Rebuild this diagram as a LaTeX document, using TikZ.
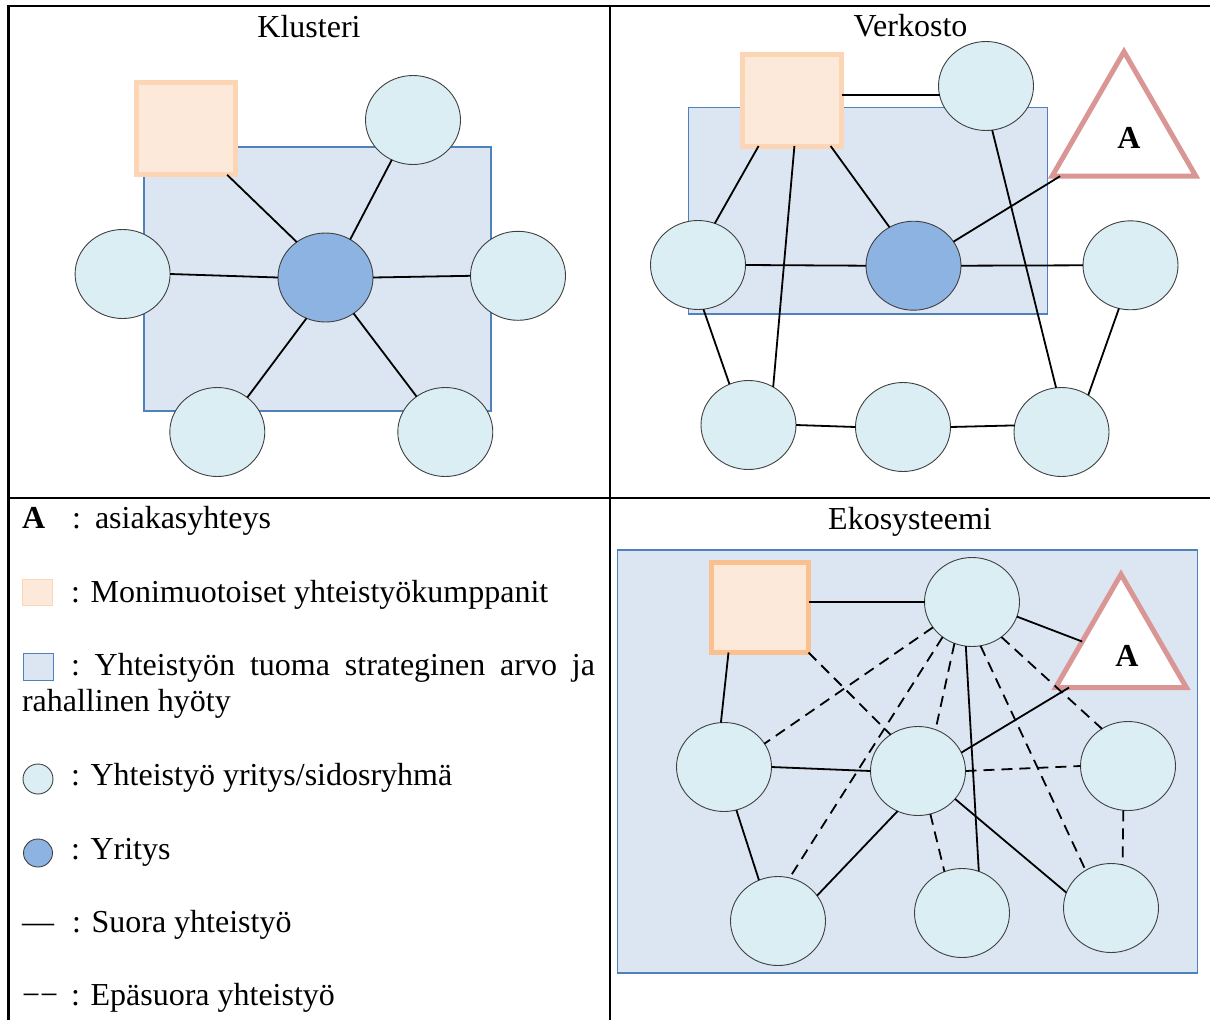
\documentclass[tikz,border=0pt]{standalone}
\usepackage{fontspec}
\setmainfont{Liberation Serif}
\usetikzlibrary{shapes.geometric}
\definecolor{cLight}{HTML}{DAEEF3}
\definecolor{cDark}{HTML}{8DB3E2}
\definecolor{cEdge}{HTML}{404040}
\definecolor{cVal}{HTML}{DCE6F2}
\definecolor{cValB}{HTML}{4F81BD}
\definecolor{cPart}{HTML}{FDE9D9}
\definecolor{cPartB}{HTML}{FCD5B5}
\definecolor{cPartBB}{HTML}{FAC090}
\definecolor{cTri}{HTML}{D99694}
\tikzset{
  txt/.style={font=\fontsize{32}{38}\selectfont, inner sep=0, outer sep=0},
  circ/.style={ellipse, minimum width=95pt, minimum height=89pt, inner sep=0, outer sep=0, draw=cEdge, line width=0.9pt, fill=cLight},
  firm/.style={circ, fill=cDark},
  partner/.style={rectangle, inner sep=0, outer sep=0, line width=5pt, draw=cPartB, fill=cPart, minimum width=99pt, minimum height=92pt},
  valbox/.style={draw=cValB, line width=1.3pt, fill=cVal},
  cust/.style={regular polygon, regular polygon sides=3, inner sep=0, outer sep=0, draw=cTri, fill=white, line width=5pt},
  direct/.style={line width=1.8pt},
  indirect/.style={line width=1.8pt, dash pattern=on 11pt off 7pt},
  gridline/.style={line width=2.4pt},
}
\begin{document}
\begin{tikzpicture}[x=1pt,y=-1pt]
\useasboundingbox (0,0) rectangle (1210,1020);

% table lines
\draw[gridline] (8.5,1020) -- (8.5,6) -- (1210,6);
\draw[gridline] (610,6) -- (610,1020);
\draw[gridline] (8.5,498) -- (1210,498);

% titles
\node[txt, anchor=base] (t1) at (309,37) {Klusteri};
\node[txt, anchor=base] (t2) at (910.5,36) {Verkosto};
\node[txt, anchor=base] (t3) at (910,529) {Ekosysteemi};

% ---------- Klusteri ----------
\draw[valbox] (144,147) rectangle (491,411);
\node[partner] (kS) at (185.7,128.8) {};
\node[circ] (kT) at (413,120) {};
\node[circ] (kL) at (122.6,274) {};
\node[firm] (kC) at (325.5,277.5) {};
\node[circ] (kR) at (518,275.8) {};
\node[circ] (kBL) at (217.3,432) {};
\node[circ] (kBR) at (445.3,432) {};
\draw[direct] (kS.-48) -- (kC.129);
\draw[direct] (kT.-118) -- (kC.57);
\draw[direct] (kL.east) -- (kC.west);
\draw[direct] (kC.east) -- (kR.west);
\draw[direct] (kC.-115) -- (kBL.49);
\draw[direct] (kC.-52) -- (kBR.129);

% ---------- Verkosto ----------
\draw[valbox] (688.5,107.7) rectangle (1047.4,314);
\node[partner] (vS) at (792,100) {};
\node[circ] (vT) at (986,86) {};
\node[cust, minimum size=166pt] (vA) at (1124,134.7) {};
\node[txt, font=\fontsize{32}{38}\selectfont\bfseries] (vAl) at (1129,138) {A};
\node[circ] (vL) at (698,265) {};
\node[firm] (vC) at (913.5,265.7) {};
\node[circ] (vR) at (1130.5,265.3) {};
\node[circ] (vBL) at (748.5,425) {};
\node[circ] (vBM) at (903,427) {};
\node[circ] (vBR) at (1061.5,432) {};
\draw[direct] (vT.-169 -| vS.east) -- (vT.-169);
\draw[direct] (vS.-126) -- (vL.68);
\draw[direct] (vS.-87) -- (vBL.57);
\draw[direct] (vS.-50) -- (vC.122);
\draw[direct] (vT.-82) -- (vBR.97);
\draw[direct] (vC.31) -- (vA.-147);
\draw[direct] (vL.east) -- (vC.west);
\draw[direct] (vC.east) -- (vR.west);
\draw[direct] (vL.-83) -- (vBL.115);
\draw[direct] (vBL.east) -- (vBM.west);
\draw[direct] (vBM.east) -- (vBR.172);
\draw[direct] (vR.-105) -- (vBR.54);

% ---------- Ekosysteemi ----------
\draw[valbox] (617.7,550) rectangle (1197.7,973);
\node[partner, draw=cPartBB, minimum width=97pt, minimum height=90pt] (eS) at (760,607.5) {};
\node[circ] (eT) at (972,602) {};
\node[cust, minimum size=151pt] (eA) at (1121,649.8) {};
\node[txt, font=\fontsize{32}{38}\selectfont\bfseries] (eAl) at (1127,656) {A};
\node[circ] (eL) at (724,767) {};
\node[circ] (eC) at (918,771) {};
\node[circ] (eR) at (1128,766) {};
\node[circ] (eBL) at (778,921) {};
\node[circ] (eBM) at (962,913) {};
\node[circ] (eBR) at (1111,908) {};
\draw[direct] (eT.west -| eS.east) -- (eT.west);
\draw[direct] (eT.-18) -- (eA.168);
\draw[direct] (eS.-125) -- (eL.94);
\draw[direct] (eL.east) -- (eC.west);
\draw[direct] (eC.23) -- (eA.-144);
\draw[direct] (eT.-98) -- (eBM.68);
\draw[direct] (eC.-117) -- (eBL.33);
\draw[direct] (eC.-37) -- (eBR.161);
\draw[direct] (eL.-74) -- (eBL.115);
\draw[indirect] (eT.-147) -- (eL.30);
\draw[indirect] (eT.-130) -- (eBL.75);
\draw[indirect] (eT.-113) -- (eC.67);
\draw[indirect] (eT.-79) -- (eBR.124);
\draw[indirect] (eT.-50) -- (eR.125);
\draw[indirect] (eS.south east) -- (eC.127);
\draw[indirect] (eC.east) -- (eR.west);
\draw[indirect] (eC.-74) -- (eBM.113);
\draw[indirect] (eR.-96) -- (eBR.75);

% ---------- Legend ----------
\node[txt, anchor=base west, font=\fontsize{32}{38}\selectfont\bfseries] (lgA) at (22,528) {A};
\node[txt, anchor=base west] (lgAc) at (72,528) {:};
\node[txt, anchor=base west] (lgAt) at (95,528) {asiakasyhteys};
\node[rectangle, draw=cPartB, fill=cPart, line width=1pt, minimum width=30pt, minimum height=26pt, inner sep=0] (lgP) at (37.5,592.5) {};
\node[txt, anchor=base west] (lgPt) at (71,602) {: Monimuotoiset yhteistyökumppanit};
\node[rectangle, draw=cValB, fill=cVal, line width=1pt, minimum width=30pt, minimum height=27pt, inner sep=0] (lgV) at (38,666.5) {};
\node[txt, anchor=base west] (lgVt) at (71,675) {\hbox to 524pt{:\hfill Yhteistyön\hfill tuoma\hfill strateginen\hfill arvo\hfill ja}};
\node[txt, anchor=base west] (lgVt2) at (22,711) {rahallinen hyöty};
\node[circ, minimum width=30pt, minimum height=30pt] (lgC) at (38,779) {};
\node[txt, anchor=base west] (lgCt) at (71,785) {: Yhteistyö yritys/sidosryhmä};
\node[firm, minimum width=29pt, minimum height=28pt] (lgF) at (38,853) {};
\node[txt, anchor=base west] (lgFt) at (71,859) {: Yritys};
\node[txt, anchor=base west] (lgD) at (22,932) {—};
\node[txt, anchor=base west] (lgDt) at (72,932) {: Suora yhteistyö};
\node[txt, anchor=base west] (lgI) at (22,1005) {−−};
\node[txt, anchor=base west] (lgIt) at (71,1005) {: Epäsuora yhteistyö};
\end{tikzpicture}
\end{document}
